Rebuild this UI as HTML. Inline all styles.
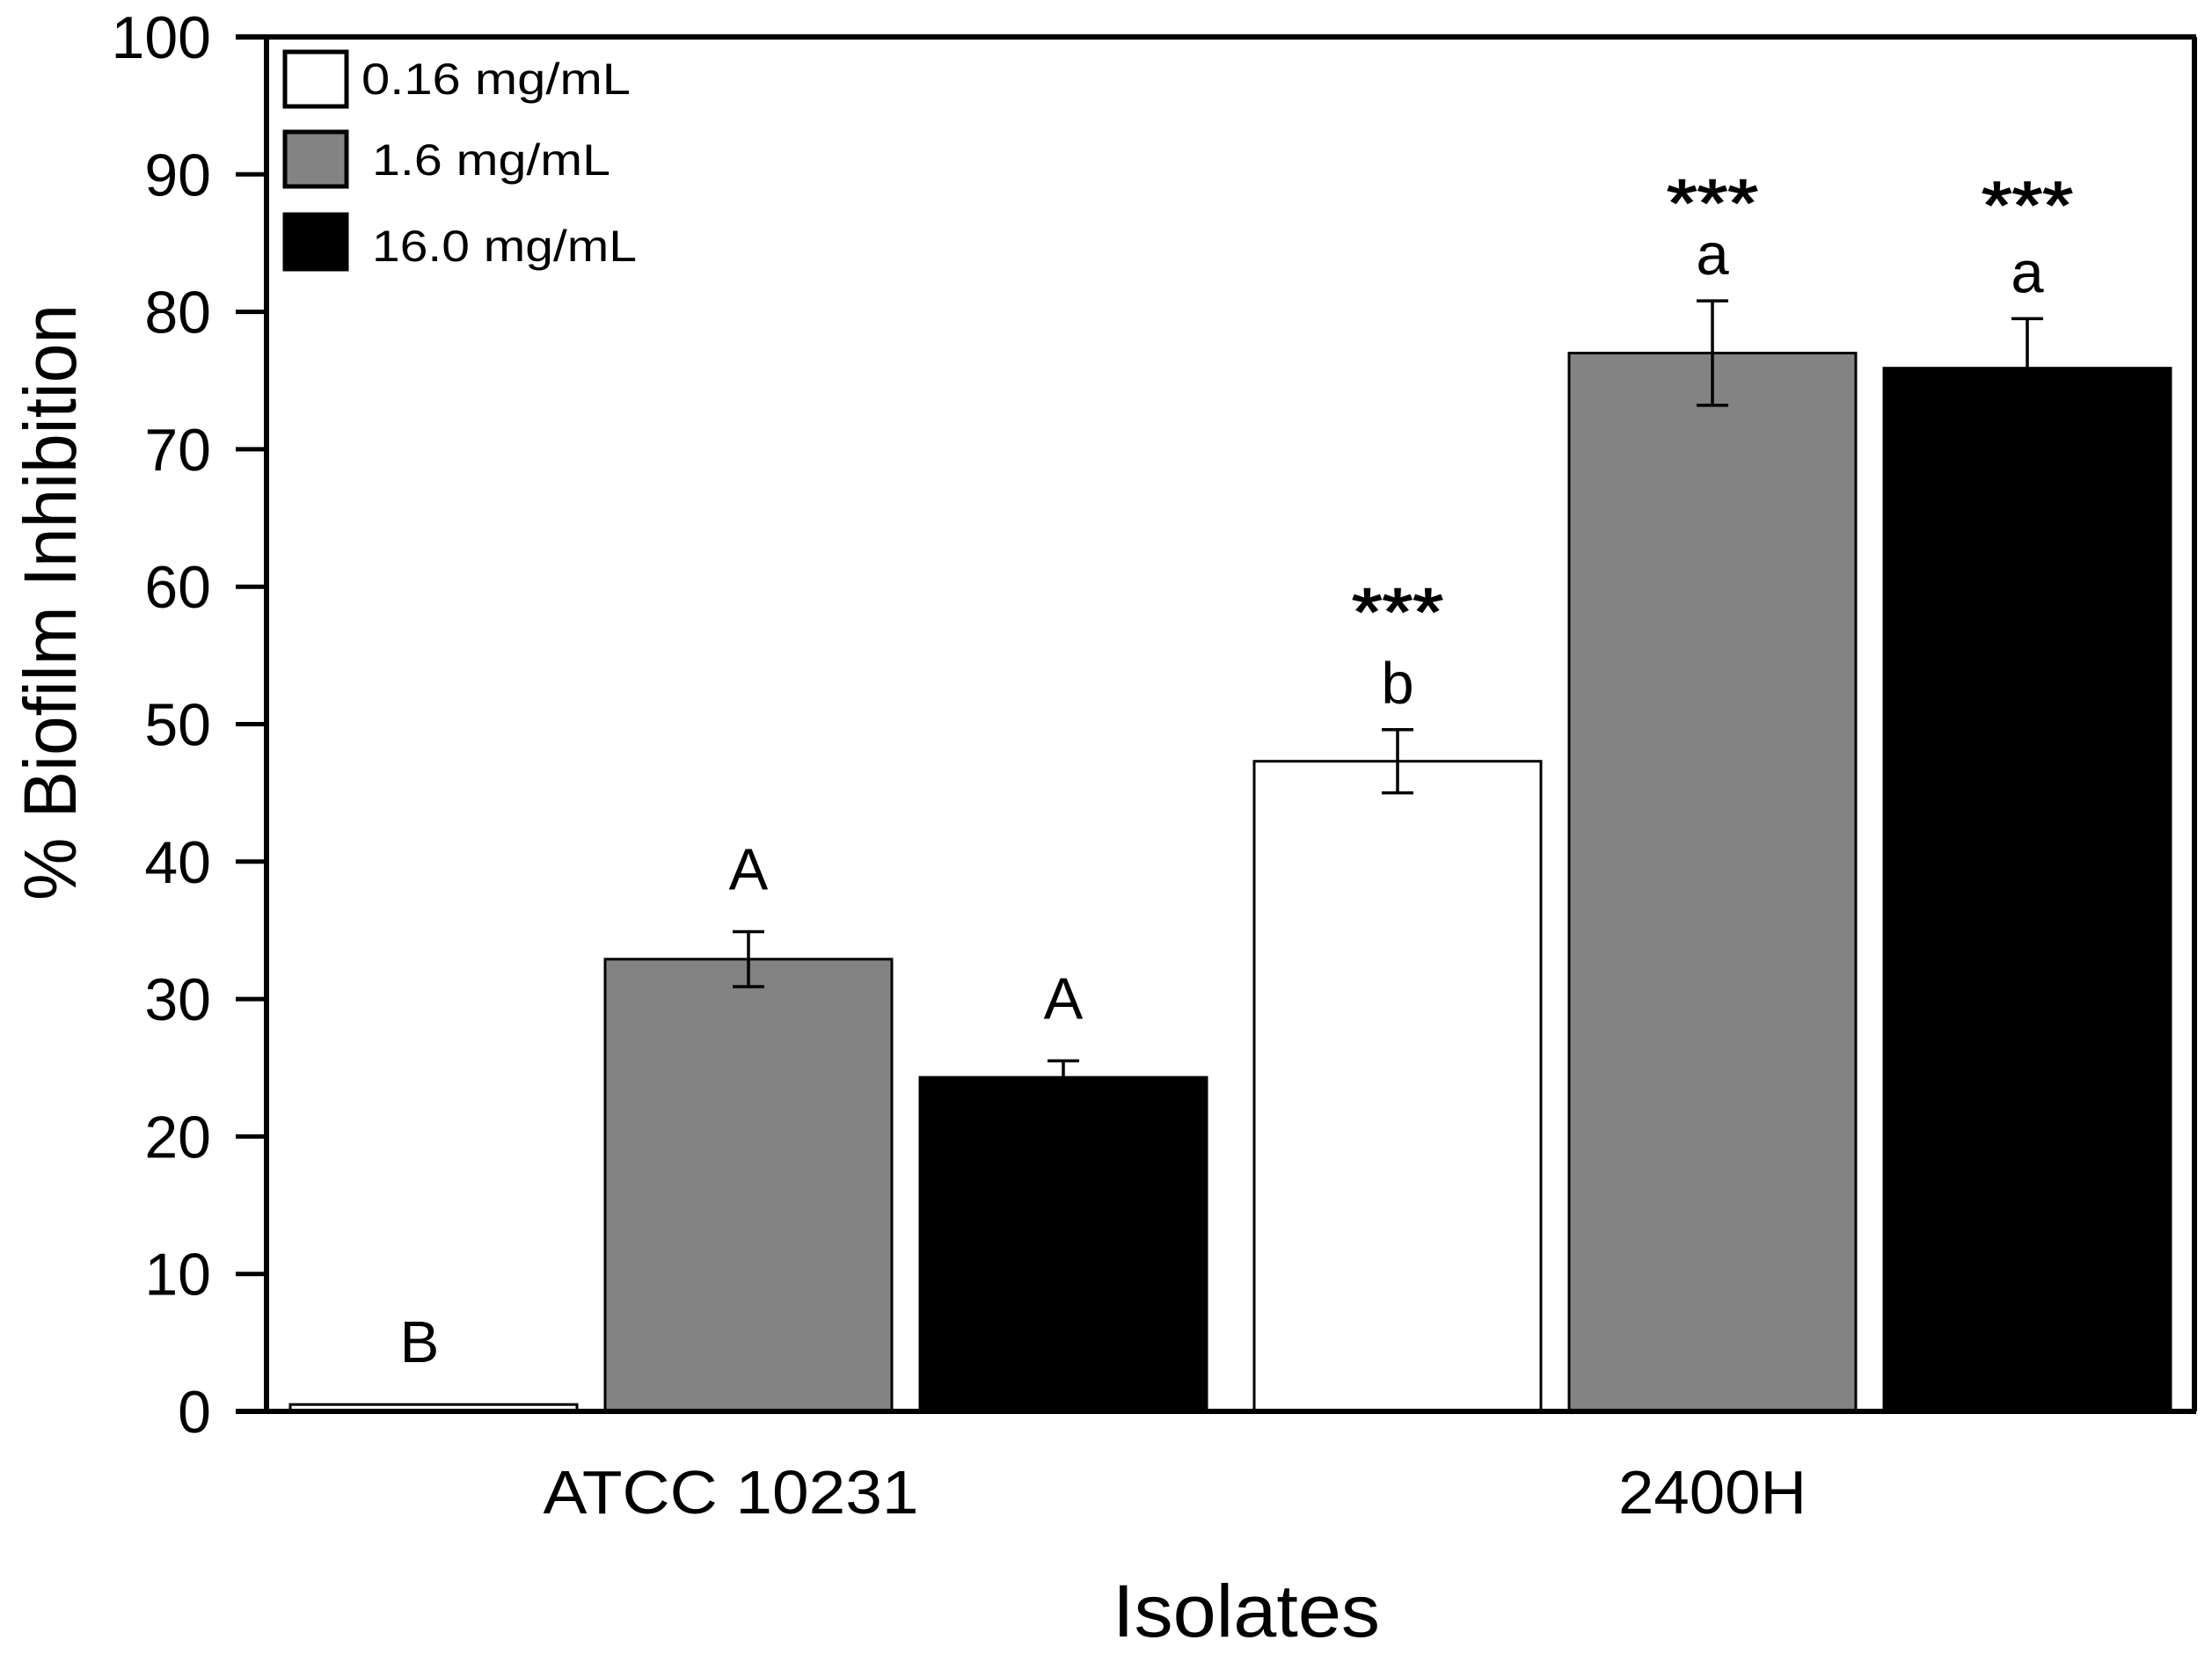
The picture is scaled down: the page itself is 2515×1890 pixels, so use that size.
<!DOCTYPE html>
<html>
<head>
<meta charset="utf-8">
<style>
  html, body { margin: 0; padding: 0; background: #fff; }
  svg { display: block; font-family: "Liberation Sans", Arial, sans-serif; }
</style>
</head>
<body>
<svg id="chart" width="2515" height="1890" viewBox="0 0 2515 1890" xmlns="http://www.w3.org/2000/svg">
  <rect x="0" y="0" width="2515" height="1890" fill="#fff"/>
  <g id="bars"></g>
  <g id="axes"></g>
  <g id="legend"></g>
</svg>
<script>
const categories = ["ATCC 10231", "2400H"];
const seriesNames = ["0.16 mg/mL", "1.6 mg/mL", "16.0 mg/mL"];
const seriesColors = ["#ffffff", "#838383", "#000000"];
const values016 = [0.5, 47.3];
const values16 = [32.9, 77.0];
const values160 = [24.3, 75.9];
const errors016 = [0, 2.3];
const errors16 = [2.0, 3.8];
const errors160 = [1.2, 3.6];
const letters016 = ["B", "b"];
const letters16 = ["A", "a"];
const letters160 = ["A", "a"];
const stars016 = ["", "***"];
const stars16 = ["", "***"];
const stars160 = ["", "***"];
const yTicks = [0, 10, 20, 30, 40, 50, 60, 70, 80, 90, 100];

const NS = "http://www.w3.org/2000/svg";
const gBars = document.getElementById("bars");
const gAxes = document.getElementById("axes");
const gLegend = document.getElementById("legend");

const plotL = 303, plotR = 2495, plotT = 42, plotB = 1605;
const yMin = 0, yMax = 100;
function yScale(v) { return plotB - (v - yMin) / (yMax - yMin) * (plotB - plotT); }
const groupStart = [330, 1426];
const barW = 326, barStep = 358;
function xBar(g, s) { return groupStart[g] + s * barStep; }
const starGap = [78, 55, 73];

function el(tag, attrs, parent) {
  const e = document.createElementNS(NS, tag);
  for (const k in attrs) e.setAttribute(k, attrs[k]);
  parent.appendChild(e);
  return e;
}

const allValues = [values016, values16, values160];
const allErrors = [errors016, errors16, errors160];
const allLetters = [letters016, letters16, letters160];
const allStars = [stars016, stars16, stars160];

for (let s = 0; s < 3; s++) {
  for (let g = 0; g < categories.length; g++) {
    const v = allValues[s][g];
    const x = xBar(g, s);
    const y = yScale(v);
    const r = el("rect", {x: x, y: y, width: barW, height: plotB - y, fill: seriesColors[s], stroke: "#000", "stroke-width": 3}, gBars);
    
    
    const cx = x + barW / 2;
    const e = allErrors[s][g];
    let topY = y;
    if (e > 0) {
      const yt = yScale(v + e), yb = yScale(v - e);
      topY = yt;
      const eb = el("path", {d: `M${cx-18},${yt}H${cx+18}M${cx},${yt}V${yb}M${cx-18},${yb}H${cx+18}`, stroke: "#000", "stroke-width": 3.5, fill: "none"}, gBars);
      
      
    }
    const gap = g === 0 ? 48 : 30;
    const ly = topY - gap;
    const lx = (g === 0 && s === 0) ? cx - 16 : cx;
    const t = el("text", {x: lx, y: ly, "font-size": 67, "text-anchor": "middle", fill: "#000"}, gBars);
    t.textContent = allLetters[s][g];
    
    
    if (allStars[s][g]) {
      const st = el("text", {x: cx, y: ly - starGap[s], "font-size": 76, "text-anchor": "middle", fill: "#000", stroke: "#000", "stroke-width": 1.5, textLength: 104, lengthAdjust: "spacingAndGlyphs"}, gBars);
      st.textContent = allStars[s][g];
      
      
    }
  }
}

const frame = el("path", {d: `M${plotL},${plotT}V${plotB}M${plotL-35},${plotB}H${plotR+2}M${plotL-35},${plotT}H${plotR+2}M${plotR},${plotT}V${plotB}`, stroke: "#000", "stroke-width": 6, fill: "none"}, gAxes);



for (const v of yTicks) {
  const y = yScale(v);
  const tk = el("line", {x1: plotL - 35, x2: plotL, y1: y, y2: y, stroke: "#000", "stroke-width": 5}, gAxes);
  
  
  const tl = el("text", {x: 240, y: y + 24, "font-size": 68, "text-anchor": "end", fill: "#000"}, gAxes);
  tl.textContent = String(v);
  
  
}

const catX = [831, 1947];
const catLen = [427, 214];
for (let g = 0; g < categories.length; g++) {
  const c = el("text", {x: catX[g], y: 1721, "font-size": 70, "text-anchor": "middle", fill: "#000", textLength: catLen[g], lengthAdjust: "spacingAndGlyphs"}, gAxes);
  c.textContent = categories[g];
  
  
}

const xt = el("text", {x: 1417, y: 1861, "font-size": 84, "text-anchor": "middle", fill: "#000", textLength: 304, lengthAdjust: "spacingAndGlyphs"}, gAxes);
xt.textContent = "Isolates";



const yt = el("text", {x: 0, y: 0, "font-size": 84, "text-anchor": "middle", fill: "#000", textLength: 678, lengthAdjust: "spacingAndGlyphs", transform: "translate(86,685) rotate(-90)"}, gAxes);
yt.textContent = "% Biofilm Inhibition";



const boxY = [59, 150, 244];
const txtX = [411, 423, 423];
const txtY = [107, 199, 297];
const txtLen = [306, 271, 301];
for (let s = 0; s < 3; s++) {
  const b = el("rect", {x: 324, y: boxY[s], width: 70, height: 62, fill: seriesColors[s], stroke: "#000", "stroke-width": 5}, gLegend);
  
  
  const t = el("text", {x: txtX[s], y: txtY[s], "font-size": 50, fill: "#000", textLength: txtLen[s], lengthAdjust: "spacingAndGlyphs"}, gLegend);
  t.textContent = seriesNames[s];
  
  
}
</script>
</body>
</html>
